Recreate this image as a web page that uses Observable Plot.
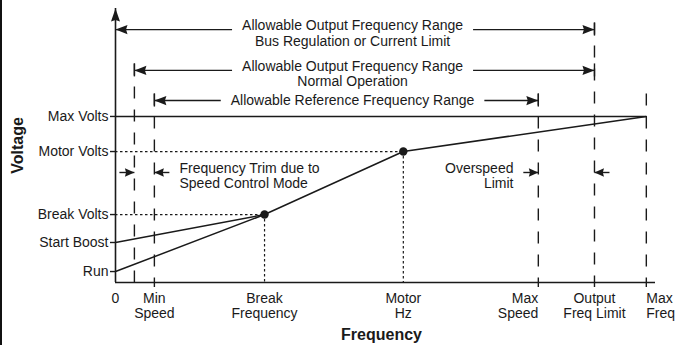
<!DOCTYPE html>
<html><head><meta charset="utf-8">
<script src="https://cdn.jsdelivr.net/npm/d3@7"></script>
<script src="https://cdn.jsdelivr.net/npm/@observablehq/plot@0.6"></script>
<style>
html,body{margin:0;padding:0;background:#fff;}
#wrap{position:relative;width:677px;height:345px;overflow:hidden;background:#fff;}
#wrap svg{position:relative;z-index:1;}
#edge{position:absolute;left:0;top:0;width:2px;height:345px;background:#111;z-index:2;}
</style></head>
<body><div id="wrap"><div id="edge"></div></div>
<script>
// ---------------- data (abstract units) ----------------
const fTrim = 3.5, fMin = 7.2, fBreak = 27.6, fMotor = 53.3, fMaxSpeed = 78.3, fOutLimit = 88.7, fMax = 98.3;
const vRun = 4.0, vBoost = 14.6, vBreak = 24.8, vMotor = 47.8, vMax = 60.6;

const xTickValues = [0, fMin, fBreak, fMotor, fMaxSpeed, fOutLimit, fMax];
const xTickLabels = ["0", "Min\nSpeed", "Break\nFrequency", "Motor\nHz", "Max\nSpeed", "Output\nFreq Limit", "Max\nFreq"];
const yTickValues = [vMax, vMotor, vBreak, vBoost, vRun];
const yTickLabels = ["Max Volts", "Motor Volts", "Break Volts", "Start Boost", "Run"];

const vfCurveF = [0, fBreak, fMotor, fMax];
const vfCurveV = [vRun, vBreak, vMotor, vMax];
const boostF = [0, fBreak];
const boostV = [vBoost, vBreak];

const rangeLabels = [
  "Allowable Output Frequency Range\nBus Regulation or Current Limit",
  "Allowable Output Frequency Range\nNormal Operation",
  "Allowable Reference Frequency Range"
];
const rangeLevels = [92.3, 77.4, 66.4];
const rangeStart = [0, fTrim, fMin];
const rangeEnd = [fOutLimit, fOutLimit, fMaxSpeed];
const rangeLabelF = 43.9;

const noteLabels = ["Frequency Trim due to\nSpeed Control Mode", "Overspeed\nLimit"];
const noteF = [11.85, 73.7];
const noteLevel = 40.15;
const trimBracket = [fTrim, fMin];
const overspeedBracket = [fMaxSpeed, fOutLimit];

// ---------------- layout ----------------
const W = 677, H = 345;
const M = {top: 8, right: 22, bottom: 63, left: 115};
const pxF = (W - M.left - M.right) / 100;
const pxV = (H - M.top - M.bottom) / 100;
const font = "'Liberation Sans', Arial, Helvetica, sans-serif";
const ink = "#1a1a1a";

const ctx = document.createElement("canvas").getContext("2d");
ctx.font = `14px ${font}`;
const halfF = s => d3.max(s.split("\n"), l => ctx.measureText(l).width) / 2 / pxF;

const ranges = rangeLabels.map((label, i) => ({
  label, level: rangeLevels[i], start: rangeStart[i], end: rangeEnd[i],
  half: halfF(label), lines: label.split("\n").length
}));
const bigArrows = ranges.flatMap(r => [
  {x1: rangeLabelF - r.half - 10 / pxF, x2: r.start, y: r.level},
  {x1: rangeLabelF + r.half + 10 / pxF, x2: r.end, y: r.level}
]);
const smallLen = 15 / pxF;
const smallArrows = [trimBracket, overspeedBracket].flatMap(([lo, hi]) => [
  {x1: lo - smallLen, x2: lo, y: noteLevel},
  {x1: hi + smallLen, x2: hi, y: noteLevel}
]);

// dashed verticals: from the highest range arrow touching them down to the axis
const dashTop = new Map();
ranges.forEach(r => [r.start, r.end].forEach(f => {
  if (f > 0) dashTop.set(f, Math.max(dashTop.get(f) ?? -Infinity, r.level));
}));
dashTop.set(fMax, d3.min(rangeLevels));
const tickHalf = 6.5 / pxV;
const dashes = Array.from(dashTop, ([f, v]) => ({f, top: v + tickHalf}));
const endTicks = ranges.flatMap(r => [r.start, r.end].filter(f => f > 0).map(f => ({f, v: r.level})));

const curve = vfCurveF.map((f, i) => ({f, v: vfCurveV[i]}));
const boost = boostF.map((f, i) => ({f, v: boostV[i]}));
const knees = [{f: fBreak, v: vBreak}, {f: fMotor, v: vMotor}];

const xTicks = xTickValues.map((f, i) => ({f, label: xTickLabels[i]}));
const xAnchor = {[fMaxSpeed]: "end", [fMax]: "start"};
const yLabel = new Map(yTickValues.map((v, i) => [v, yTickLabels[i]]));
const notes = noteLabels.map((t, i) => ({t, f: noteF[i]}));

const head = (len, half) => ({draw(c) {
  c.moveTo(0, 0); c.lineTo(half, len); c.lineTo(0, len * 0.88); c.lineTo(-half, len); c.closePath();
}});
const bigHead = head(12, 4.6), smallHead = head(9.5, 4.2);
const rot = d => d.x2 > d.x1 ? 90 : -90;

const chart = Plot.plot({
  width: W, height: H,
  marginTop: M.top, marginRight: M.right, marginBottom: M.bottom, marginLeft: M.left,
  x: {domain: [0, 100], axis: null},
  y: {domain: [0, 100], axis: null},
  style: {fontFamily: font, fontSize: "14px", color: ink, background: "transparent", overflow: "visible"},
  marks: [
    // dashed verticals
    Plot.ruleX(dashes, {x: "f", y1: "top", y2: 0, stroke: ink, strokeWidth: 1.4, strokeDasharray: "12,11"}),
    Plot.ruleX(endTicks, {x: "f", y1: d => d.v + tickHalf, y2: d => d.v - tickHalf, stroke: ink, strokeWidth: 1.4}),
    // dotted guides
    Plot.ruleY(knees, {y: "v", x1: 0, x2: "f", stroke: ink, strokeWidth: 1.2, strokeDasharray: "2.5,2.5"}),
    Plot.ruleX(knees, {x: "f", y1: "v", y2: 0, stroke: ink, strokeWidth: 1.2, strokeDasharray: "2.5,2.5"}),
    // Max Volts line
    Plot.ruleY([vMax], {x1: 0, x2: fMax, stroke: ink, strokeWidth: 1.5}),
    // V/Hz curves
    Plot.line(curve, {x: "f", y: "v", stroke: ink, strokeWidth: 1.5}),
    Plot.line(boost, {x: "f", y: "v", stroke: ink, strokeWidth: 1.5}),
    Plot.dot(knees, {x: "f", y: "v", r: 4.2, fill: ink, stroke: "none"}),
    // axes
    Plot.ruleY([0], {stroke: ink, strokeWidth: 1.6}),
    Plot.ruleX([0], {stroke: ink, strokeWidth: 1.6}),
    Plot.dot([100], {x: 0, y: d => d, symbol: head(13, 4.5), r: 5, fill: ink, stroke: "none"}),
    Plot.axisY({ticks: yTickValues, tickFormat: d => yLabel.get(d), tickSize: 5, tickPadding: 2, fontSize: 14, stroke: ink, strokeWidth: 1.4}),
    Plot.axisX({ticks: [fMin, fMaxSpeed, fOutLimit, fMax], tickSize: 5, tickFormat: () => "", stroke: ink, strokeWidth: 1.4}),
    Plot.text(xTicks.filter(d => !xAnchor[d.f]), {x: "f", y: 0, text: "label", lineAnchor: "top", textAnchor: "middle", dy: 9, lineHeight: 1.12, fontSize: 14, fill: ink}),
    Plot.text(xTicks.filter(d => xAnchor[d.f] === "end"), {x: "f", y: 0, text: "label", lineAnchor: "top", textAnchor: "end", dy: 9, lineHeight: 1.12, fontSize: 14, fill: ink}),
    Plot.text(xTicks.filter(d => xAnchor[d.f] === "start"), {x: "f", y: 0, text: "label", lineAnchor: "top", textAnchor: "start", dy: 9, lineHeight: 1.12, fontSize: 14, fill: ink}),
    // axis titles
    Plot.text(["Voltage"], {frameAnchor: "left", text: d => d, rotate: -90, textAnchor: "middle", lineAnchor: "middle", dx: -97.5, fontSize: 16, fontWeight: "bold", fill: ink}),
    Plot.text(["Frequency"], {frameAnchor: "bottom", text: d => d, textAnchor: "middle", lineAnchor: "middle", dx: -4, dy: 52, fontSize: 16, fontWeight: "bold", fill: ink}),
    // range arrows
    Plot.link(bigArrows, {x1: "x1", x2: "x2", y1: "y", y2: "y", stroke: ink, strokeWidth: 1.4}),
    Plot.dot(bigArrows, {x: "x2", y: "y", symbol: bigHead, rotate: rot, r: 5, fill: ink, stroke: "none"}),
    Plot.text(ranges.filter(r => r.lines > 1), {x: rangeLabelF, y: "level", text: "label", lineAnchor: "top", dy: -10.3, lineHeight: 1.1, fontSize: 14, fill: ink}),
    Plot.text(ranges.filter(r => r.lines === 1), {x: rangeLabelF, y: "level", text: "label", lineAnchor: "middle", dy: 0, fontSize: 14, fill: ink}),
    // notes
    Plot.link(smallArrows, {x1: "x1", x2: "x2", y1: "y", y2: "y", stroke: ink, strokeWidth: 1.4}),
    Plot.dot(smallArrows, {x: "x2", y: "y", symbol: smallHead, rotate: rot, r: 4, fill: ink, stroke: "none"}),
    Plot.text(notes.slice(0, 1), {x: "f", y: noteLevel, text: "t", textAnchor: "start", lineAnchor: "top", dy: -10.5, lineHeight: 1.1, fontSize: 14, fill: ink}),
    Plot.text(notes.slice(1), {x: "f", y: noteLevel, text: "t", textAnchor: "end", lineAnchor: "top", dy: -10.5, lineHeight: 1.1, fontSize: 14, fill: ink})
  ]
});
document.getElementById("wrap").appendChild(chart);
</script>
</body></html>
